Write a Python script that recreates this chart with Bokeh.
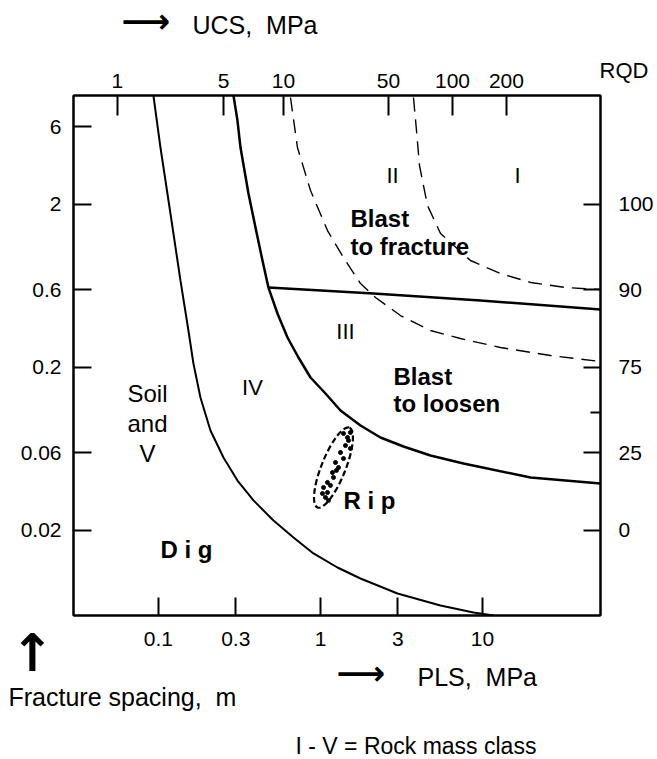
from bokeh.plotting import figure
from bokeh.models import LogAxis, FixedTicker, Label, Range1d, Title
from bokeh.embed import file_html
from bokeh.resources import INLINE

# ---------------- data ----------------
pls_ticks = [0.1, 0.3, 1, 3, 10]
pls_labels = ["0.1", "0.3", "1", "3", "10"]
ucs_labels = ["1", "5", "10", "50", "100", "200"]
ucs_at_pls = [0.0558, 0.252, 0.591, 2.63, 6.53, 14.06]
spacing_ticks = [6, 2, 0.6, 0.2, 0.06, 0.02]
spacing_labels = ["6", "2", "0.6", "0.2", "0.06", "0.02"]
rqd_at_spacing = [2, 0.6, 0.2, 0.06, 0.02]
rqd_labels = ["100", "90", "75", "25", "0"]
rqd_minor_at_spacing = [0.1056]

# Dig / Rip boundary
dig_pls = [0.0931, 0.1029, 0.1186, 0.1367, 0.1531, 0.1644, 0.1816, 0.2094, 0.2519, 0.3074,
           0.3859, 0.5128, 0.6813, 0.9053, 1.273, 1.766, 2.988, 5.505, 8.80, 11.69]
dig_sp = [9.30, 4.46, 1.756, 0.682, 0.3363, 0.2110, 0.1305, 0.0819, 0.0559, 0.0404,
          0.0305, 0.02296, 0.01806, 0.01441, 0.01182, 0.01012, 0.00819, 0.00691, 0.00626, 0.0060]

# Rip / Blast to loosen boundary
rip_pls = [0.2904, 0.3074, 0.3209, 0.3594, 0.3971, 0.4385, 0.4775, 0.5428, 0.6257, 0.7314,
           0.868, 1.074, 1.329, 1.766, 2.346, 3.253, 4.775, 7.63, 19.79, 53.5]
rip_sp = [9.30, 6.53, 4.46, 2.329, 1.441, 0.904, 0.617, 0.4275, 0.3046, 0.2296,
          0.1731, 0.1381, 0.1086, 0.0879, 0.0742, 0.0653, 0.0575, 0.0514, 0.0421, 0.0387]

# Blast to loosen / Blast to fracture boundary
frac_pls = [0.4775, 2.124, 9.72, 53.5]
frac_sp = [0.617, 0.567, 0.5136, 0.452]

# class III / II boundary (dashed)
c23_pls = [0.653, 0.721, 0.868, 1.105, 1.387, 1.766, 2.186, 3.118, 4.775,
           7.31, 12.9, 26.3, 53.5]
c23_sp = [9.04, 4.46, 2.43, 1.38, 0.943, 0.653, 0.536, 0.4156, 0.3363,
          0.3003, 0.2645, 0.236, 0.217]

# class II / I boundary (dashed)
c12_pls = [3.75, 3.914, 4.085, 4.576, 5.505, 8.43, 12.9, 19.8, 32.5, 53.5]
c12_sp = [9.04, 5.67, 3.46, 1.966, 1.324, 0.904, 0.752, 0.663, 0.617, 0.6]

# case-study points inside the dashed envelope
pts_pls = [1.387, 1.489, 1.427, 1.531, 1.329, 1.387, 1.238, 1.292, 1.186, 1.203,
           1.105, 1.152, 1.044, 1.105, 1.074, 1.029, 1.12, 1.468, 1.531, 1.255]
pts_sp = [0.0785, 0.0711, 0.0662, 0.0635, 0.060, 0.0551, 0.0521, 0.0485, 0.0452, 0.0422,
          0.0393, 0.0377, 0.0366, 0.0341, 0.0318, 0.0336, 0.0305, 0.0742, 0.0796, 0.0466]
env_pls = [1.203]
env_sp = [0.0485]

# ---------------- figure ----------------
FL, FT, FR, FB = 73, 95, 600, 615
W, H = 657, 759
FONT = "Liberation Sans"
AFONT = "DejaVu Sans"
NBSP = "\u00a0"

p = figure(width=W, height=H, x_axis_type="log", y_axis_type="log", title=None,
           x_range=Range1d(0.0299, 53.5), y_range=Range1d(0.0060, 9.3),
           output_backend="svg", toolbar_location=None,
           min_border_left=FL, min_border_right=W - FR,
           min_border_top=FT, min_border_bottom=H - FB)
p.grid.visible = False
p.outline_line_color = "black"
p.outline_line_width = 2
p.background_fill_color = "white"
p.border_fill_color = "white"


def style(ax, ticks, labels, tick_in, standoff):
    ax.ticker = FixedTicker(ticks=ticks)
    ax.major_label_overrides = {t: l for t, l in zip(ticks, labels)}
    ax.major_tick_in = tick_in
    ax.major_tick_out = 0
    ax.major_tick_line_width = 2
    ax.major_tick_line_color = "black"
    ax.minor_tick_line_color = None
    ax.axis_line_width = 2
    ax.axis_line_color = "black"
    ax.major_label_text_font = FONT
    ax.major_label_text_font_size = "21px"
    ax.major_label_text_color = "black"
    ax.major_label_standoff = standoff


style(p.xaxis[0], pls_ticks, pls_labels, 18, 16)
style(p.yaxis[0], spacing_ticks, spacing_labels, 18, 12)

top = LogAxis()
style(top, ucs_at_pls, ucs_labels, 20, 8)
p.add_layout(top, "above")

right = LogAxis()
style(right, rqd_at_spacing, rqd_labels, 17, 18)
right.ticker = FixedTicker(ticks=rqd_at_spacing, minor_ticks=rqd_minor_at_spacing)
right.minor_tick_line_color = "black"
right.minor_tick_line_width = 2
right.minor_tick_in = 10
right.minor_tick_out = 0
p.add_layout(right, "right")

# curves
p.line(dig_pls, dig_sp, line_color="black", line_width=2)
p.line(rip_pls, rip_sp, line_color="black", line_width=2.5)
p.line(frac_pls, frac_sp, line_color="black", line_width=2.5)
p.line(c23_pls, c23_sp, line_color="black", line_width=1.4, line_dash="14 8")
p.line(c12_pls, c12_sp, line_color="black", line_width=1.4, line_dash="14 8")

# envelope and points
p.ellipse(env_pls, env_sp, width=86, height=24, angle=1.19,
          width_units="screen", height_units="screen",
          fill_color=None, line_color="black", line_width=2.2, line_dash="6 3")
p.scatter(pts_pls, pts_sp, size=4, color="black")


def lab(cx, cy, text, size="24px", bold=False, align="left"):
    p.add_layout(Label(x=cx - FL, y=FB - cy, x_units="screen", y_units="screen",
                       text=text, text_font=FONT, text_font_size=size,
                       text_font_style="bold" if bold else "normal",
                       text_align=align, text_baseline="middle", text_color="black"))


def row(side, text, standoff, size, offset=0, font=FONT, bold=False,
        align="left", valign="middle"):
    p.add_layout(Title(text=text, align=align, offset=offset, standoff=standoff,
                       vertical_align=valign, text_font=font,
                       text_font_size="%dpx" % size,
                       text_font_style="bold" if bold else "normal",
                       text_color="black"), side)


def zero(size):
    # standoff that leaves (almost) no height for a row of this font size
    return -(2 + size)


# rows above the top axis (inner to outer)
row("above", "RQD", -25.5, 22, offset=-48, align="right", valign="bottom")
row("above", " ", 13.4, 24)
row("above", "UCS," + NBSP + " MPa", zero(25), 25, offset=192 - FL)
row("above", "\u27f6", zero(34), 34, offset=121 - FL, font=AFONT, bold=True)

# rows below the bottom axis (inner to outer)
row("below", "\u2191", zero(52), 52, offset=10 - FL, font=AFONT, bold=True)
row("below", " ", -16.5, 24)
row("below", "\u27f6", zero(34), 34, offset=336 - FL, font=AFONT, bold=True)
row("below", "PLS," + NBSP + " MPa", zero(25), 25, offset=417 - FL)
row("below", " ", -11.85, 24)
row("below", "Fracture spacing," + NBSP + " m", zero(25), 25, offset=8 - FL)
row("below", " ", 17.4, 24)
row("below", "I - V = Rock mass class", zero(23), 23, offset=295 - FL)

# region labels
lab(392, 175, "II", size="22px", align="center")
lab(517, 175, "I", size="22px", align="center")
lab(350, 218, "Blast", bold=True)
lab(350, 246, "to fracture", bold=True)
lab(345, 331, "III", size="22px", align="center")
lab(252, 387, "IV", size="22px", align="center")
lab(393, 376, "Blast", bold=True)
lab(393, 403, "to loosen", bold=True)
lab(147, 393, "Soil", align="center")
lab(147, 423, "and", align="center")
lab(147, 453, "V", align="center")
lab(160, 549, "D i g", bold=True)
lab(343, 500, "R i p", bold=True)

open("out.html", "w").write(file_html(p, INLINE))
